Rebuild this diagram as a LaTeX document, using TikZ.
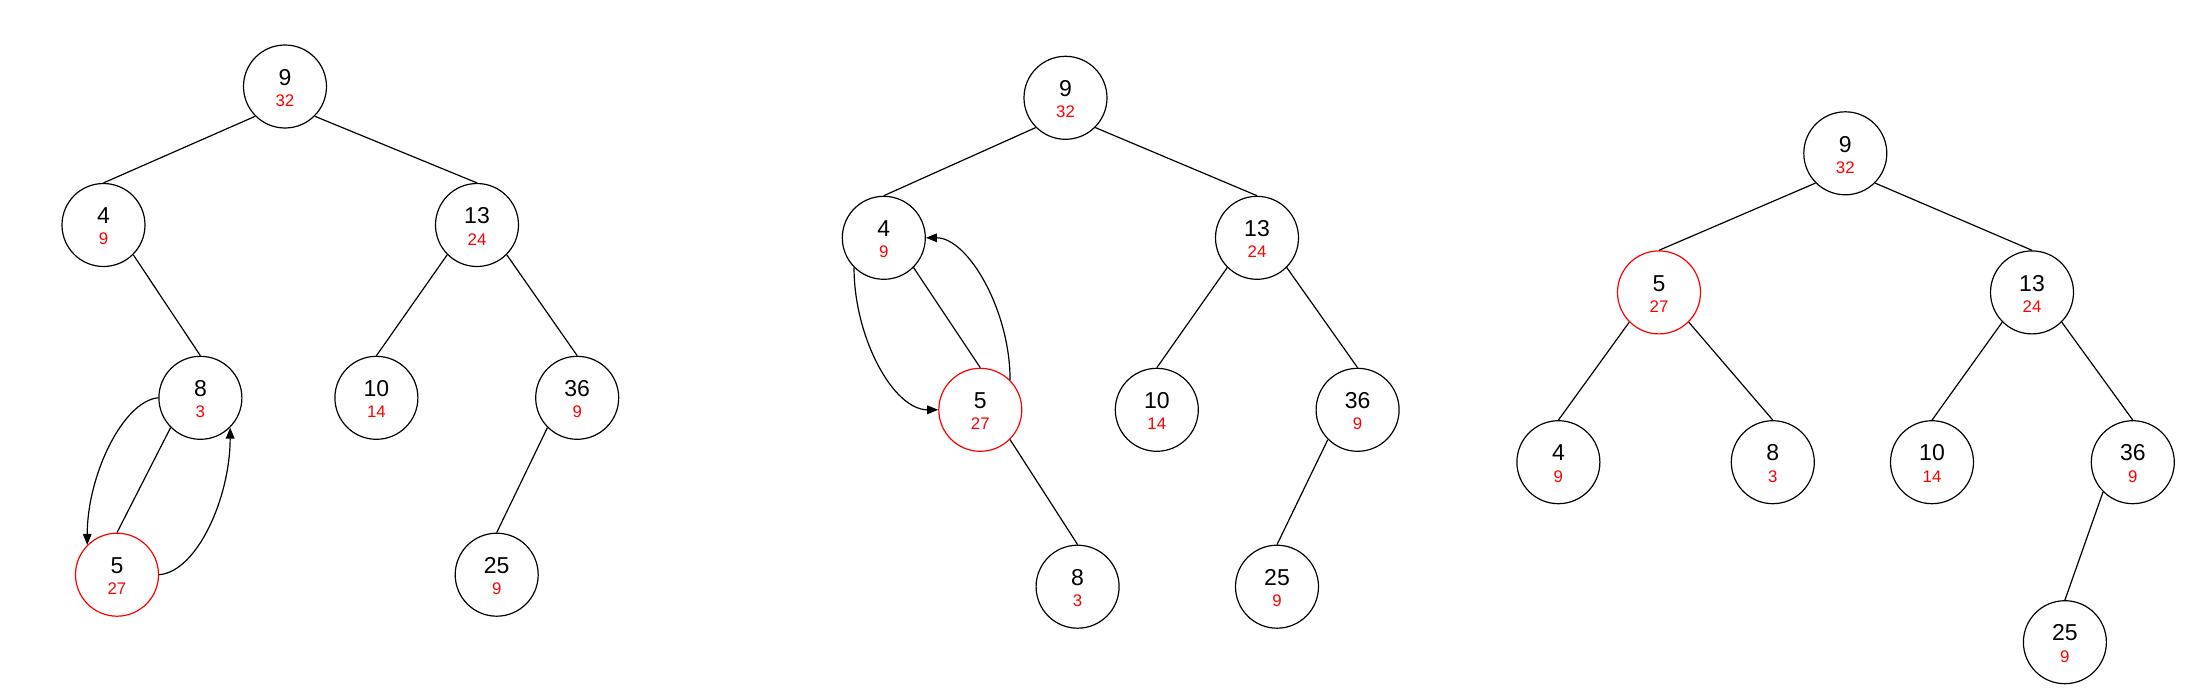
\documentclass[tikz,border=0pt]{standalone}
\usepackage{fontspec}
\setmainfont{Liberation Sans}
\usetikzlibrary{arrows.meta}
\tikzset{
  tn/.style={circle, draw=black, line width=0.6pt, minimum size=41.5pt, inner sep=0pt},
  rn/.style={tn, draw=red},
  edge/.style={line width=0.6pt},
  arr/.style={line width=0.6pt, -{Triangle[length=5.5pt,width=4.3pt]}},
  bigt/.style={font=\fontsize{11.5}{13}\selectfont, inner sep=0pt},
  smallt/.style={font=\fontsize{8.4}{10}\selectfont, text=red, inner sep=0pt},
}
\newcommand\tnd[6]{%
  \node[#4] (#1) at (#2,#3) {};
  \node[bigt] (#1t) at ([yshift=4.6pt]#1.center) {#5};
  \node[smallt] (#1b) at ([yshift=-7.1pt]#1.center) {#6};
}
\begin{document}
\begin{tikzpicture}[x=0.5pt,y=-0.5pt]
\useasboundingbox (0,0) rectangle (2202,696);
% tree 1
\tnd{a9}{285}{86.5}{tn}{9}{32}
\tnd{a4}{103.5}{225}{tn}{4}{9}
\tnd{a13}{477}{225}{tn}{13}{24}
\tnd{a8}{200.4}{397.8}{tn}{8}{3}
\tnd{a10}{376.4}{397.8}{tn}{10}{14}
\tnd{a36}{577.2}{397.8}{tn}{36}{9}
\tnd{a5}{117}{574.7}{rn}{5}{27}
\tnd{a25}{496.7}{574.7}{tn}{25}{9}
% tree 2
\tnd{b9}{1065.5}{97.8}{tn}{9}{32}
\tnd{b4}{883.8}{237.8}{tn}{4}{9}
\tnd{b13}{1257}{237.8}{tn}{13}{24}
\tnd{b5}{980.3}{409.8}{rn}{5}{27}
\tnd{b10}{1156.8}{409.8}{tn}{10}{14}
\tnd{b36}{1357.6}{409.8}{tn}{36}{9}
\tnd{b8}{1077.6}{586.7}{tn}{8}{3}
\tnd{b25}{1277}{586.7}{tn}{25}{9}
% tree 3
\tnd{c9}{1845.3}{153.3}{tn}{9}{32}
\tnd{c5}{1659}{292.4}{rn}{5}{27}
\tnd{c13}{2032}{292.4}{tn}{13}{24}
\tnd{c4}{1558.4}{462.2}{tn}{4}{9}
\tnd{c8}{1772.8}{462.2}{tn}{8}{3}
\tnd{c10}{1932}{462.2}{tn}{10}{14}
\tnd{c36}{2132.8}{462.2}{tn}{36}{9}
\tnd{c25}{2064.9}{642.2}{tn}{25}{9}
% edges: left children leave from south west, right children from south east
\foreach \p/\c in {a9/a4,a13/a10,a8/a5,a36/a25,
                   b9/b4,b13/b10,b36/b25,
                   c9/c5,c5/c4,c13/c10,c36/c25}
  \draw[edge] (\p.south west) -- (\c.north);
\foreach \p/\c in {a9/a13,a4/a8,a13/a36,
                   b9/b13,b4/b5,b13/b36,b5/b8,
                   c9/c13,c5/c8,c13/c36}
  \draw[edge] (\p.south east) -- (\c.north);
% curved arrows
\draw[arr] (a8.west) .. controls +(-35,3) and +(0,-70) .. (a5.north west);
\draw[arr] (a5.east) .. controls +(38,-3) and +(0,70) .. (a8.south east);
\draw[arr] (b4.south west) .. controls +(0,70) and +(-45,0) .. (b5.west);
\draw[arr] (b5.north east) .. controls +(0,-70) and +(42,0) .. (b4.east);
\end{tikzpicture}
\end{document}
